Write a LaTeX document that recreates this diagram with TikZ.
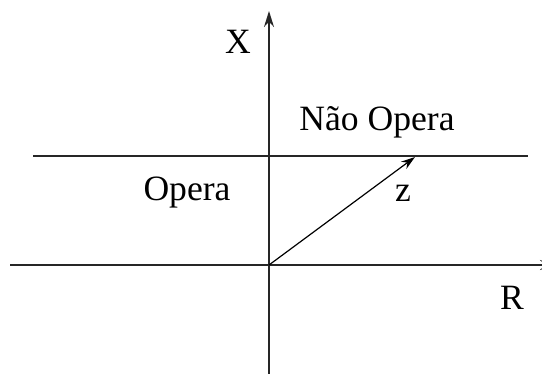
\documentclass[tikz,border=0pt]{standalone}
\usepackage{fontspec}
\setmainfont{Liberation Serif}
\usetikzlibrary{arrows.meta}

\begin{document}
\begin{tikzpicture}[x=0.5pt, y=-0.5pt,
  axis/.style={line width=0.8pt, color=black!85},
  arrow/.style={-{Stealth[length=7pt, width=4.5pt]}, line width=0.6pt},
  lbl/.style={font=\fontsize{17.8}{20}\selectfont}
]
\useasboundingbox (0,0) rectangle (542,374);
% eixos
\coordinate (o) at (269,265);
\coordinate (xtop) at (269,11);
\coordinate (xbot) at (269,374);
\coordinate (rleft) at (10,265);
\coordinate (rright) at (556,265);
\coordinate (lleft) at (33,156);
\coordinate (lright) at (528,156);
\coordinate (ztip) at (415,157);
\draw[axis, -{Stealth[length=8pt, width=5pt]}] (xbot) -- (xtop);
\draw[axis, -{Stealth[length=8pt, width=5pt]}] (rleft) -- (rright);
\draw[axis] (lleft) -- (lright);
\draw[arrow] (o) -- (ztip);
% textos
\node[lbl] (xlab) at (238,42) {X};
\node[lbl] (rlab) at (512,298) {R};
\node[lbl] (nao) at (377,122) {Não Opera};
\node[lbl] (opera) at (187,193) {Opera};
\node[lbl] (zlab) at (403,193) {z};
\end{tikzpicture}
\end{document}
